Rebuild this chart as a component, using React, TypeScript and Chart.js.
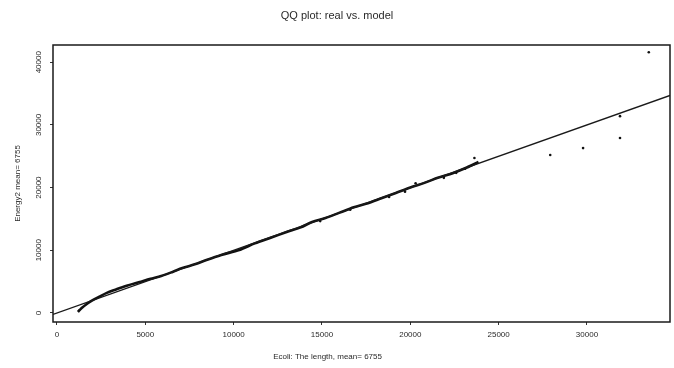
import React, { useEffect, useRef } from "react";
import { Chart, registerables } from "chart.js";
Chart.register(...registerables);

const titleText = "QQ plot: real vs. model";
const xAxisTitle = "Ecoli: The length, mean= 6755";
const yAxisTitle = "Energy2 mean= 6755";

const xTicks = [0, 5000, 10000, 15000, 20000, 25000, 30000];
const yTicks = [0, 10000, 20000, 30000, 40000];
const xMin = -225;
const xMax = 34700;
const yMin = -1450;
const yMax = 42750;

// main (dense) quantile curve
const qqX = [1180, 1300, 1450, 1650, 1860, 2100, 2400, 2820, 3300, 3900, 4680, 5300, 5900, 6540, 7100, 7800, 8460, 9300, 10320, 11200, 12100, 13000, 13800, 14440, 15200, 16000, 16800, 17600, 18400, 19180, 20000, 20800, 21600, 22400, 23200, 23860];
const qqY = [160, 500, 900, 1350, 1750, 2150, 2600, 3190, 3700, 4300, 4940, 5450, 5900, 6540, 7150, 7750, 8450, 9250, 10050, 11100, 12000, 12900, 13650, 14510, 15150, 16000, 16850, 17500, 18350, 19140, 20000, 20750, 21600, 22300, 23200, 24080];

// small bumps near the curve
const bumpX = [14900, 16600, 18800, 19700, 20300, 21900, 22600, 23100];
const bumpY = [14650, 16450, 18500, 19350, 20700, 21550, 22350, 23000];

// sparse upper quantiles
const outX = [23630, 27920, 29780, 31870, 31870, 33500];
const outY = [24720, 25200, 26300, 27900, 31400, 41600];

const FONT = "'Liberation Sans', Arial, sans-serif";
const INK = "#2a2a2a";

export default function App() {
  const ref = useRef<HTMLCanvasElement>(null);
  useEffect(() => {
    document.body.style.margin = "0";
    const canvas = ref.current!;
    const frame = {
      id: "frame",
      afterDraw(chart: any) {
        const { ctx, chartArea: a } = chart;
        ctx.save();
        ctx.strokeStyle = "#1a1a1a";
        ctx.lineWidth = 1.5;
        ctx.strokeRect(a.left, a.top, a.right - a.left, a.bottom - a.top);
        ctx.fillStyle = INK;
        ctx.font = `8px ${FONT}`;
        ctx.textAlign = "center";
        ctx.textBaseline = "middle";
        ctx.fillText(xAxisTitle, a.left + (a.right - a.left) * 0.445, a.bottom + 35);
        ctx.restore();
      },
    };
    const chart = new Chart(canvas, {
      type: "scatter",
      data: {
        datasets: [
          {
            type: "line",
            data: [
              { x: xMin, y: xMin },
              { x: xMax, y: xMax },
            ],
            borderColor: "#1a1a1a",
            borderWidth: 1.3,
            pointRadius: 0,
            fill: false,
          },
          {
            type: "line",
            data: qqX.map((x, i) => ({ x, y: qqY[i] })),
            borderColor: "#111",
            borderWidth: 2.6,
            pointRadius: 0,
            tension: 0.3,
            fill: false,
          },
          {
            data: bumpX.map((x, i) => ({ x, y: bumpY[i] })),
            pointRadius: 1.3,
            backgroundColor: "#111",
            borderWidth: 0,
          },
          {
            data: outX.map((x, i) => ({ x, y: outY[i] })),
            pointRadius: 1.3,
            backgroundColor: "#111",
            borderWidth: 0,
          },
        ],
      } as any,
      options: {
        responsive: false,
        animation: false,
        layout: { padding: 0 },
        plugins: {
          legend: { display: false },
          tooltip: { enabled: false },
          title: {
            display: true,
            text: titleText,
            color: INK,
            font: { family: FONT, size: 11, weight: "normal" },
            padding: { top: 9, bottom: 22.8 },
          },
        },
        scales: {
          x: {
            type: "linear",
            min: xMin,
            max: xMax,
            afterBuildTicks: (s: any) => {
              s.ticks = xTicks.map((v) => ({ value: v }));
            },
            afterFit: (s: any) => {
              s.height = 46;
            },
            ticks: {
              color: INK,
              font: { family: FONT, size: 8 },
              padding: 5,
              maxRotation: 0,
              minRotation: 0,
              autoSkip: false,
              callback: (v: any) => String(v),
            },
            grid: { drawOnChartArea: false, tickLength: 3, color: "#333" },
            border: { display: false },
          },
          y: {
            type: "linear",
            min: yMin,
            max: yMax,
            afterBuildTicks: (s: any) => {
              s.ticks = yTicks.map((v) => ({ value: v }));
            },
            afterFit: (s: any) => {
              s.width = 53;
            },
            ticks: {
              color: INK,
              font: { family: FONT, size: 8 },
              padding: 0,
              minRotation: 90,
              maxRotation: 90,
              crossAlign: "center",
              autoSkip: false,
              callback: (v: any) => String(v),
            },
            grid: { drawOnChartArea: false, tickLength: 3, color: "#333" },
            border: { display: false },
            title: {
              display: true,
              text: yAxisTitle,
              color: INK,
              font: { family: FONT, size: 8 },
              padding: { top: 13, bottom: 0 },
            },
          },
        },
      } as any,
      plugins: [frame],
    });
    return () => chart.destroy();
  }, []);
  return (
    <div style={{ width: 674, height: 368 }}>
      <canvas ref={ref} width={674} height={368} style={{ display: "block" }} />
    </div>
  );
}
